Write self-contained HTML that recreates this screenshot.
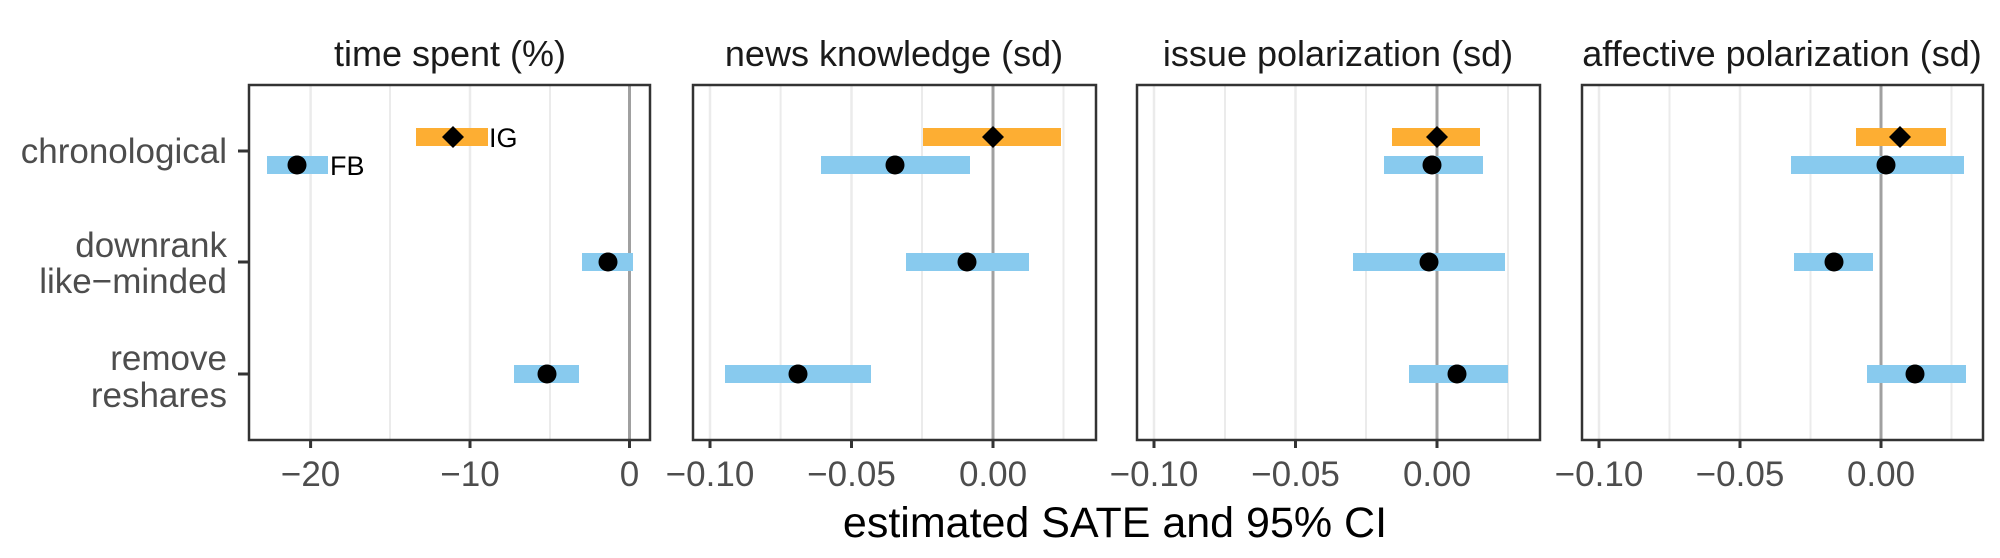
<!DOCTYPE html>
<html><head><meta charset="utf-8"><style>
html,body{margin:0;padding:0;background:#fff;}
svg{display:block;font-family:"Liberation Sans",Arial,sans-serif;}
</style></head><body>
<svg width="2000" height="558" viewBox="0 0 2000 558" xmlns="http://www.w3.org/2000/svg">
<!-- titles -->
<g font-size="36" fill="#1a1a1a" text-anchor="middle">
<text x="450" y="66">time spent (%)</text>
<text x="894" y="66">news knowledge (sd)</text>
<text x="1338" y="66">issue polarization (sd)</text>
<text x="1782" y="66">affective polarization (sd)</text>
</g>
<!-- y labels -->
<g font-size="35" fill="#4d4d4d" text-anchor="end">
<text x="227" y="163">chronological</text>
<text x="227" y="257">downrank</text>
<text x="227" y="293">like−minded</text>
<text x="227" y="370">remove</text>
<text x="227" y="407">reshares</text>
</g>
<g stroke="#333" stroke-width="3">
<line x1="238" y1="151" x2="249" y2="151"/>
<line x1="238" y1="262" x2="249" y2="262"/>
<line x1="238" y1="374" x2="249" y2="374"/>
</g>

<!-- Panel 1 -->
<g>
<g stroke="#ebebeb" stroke-width="2">
<line x1="390" y1="85" x2="390" y2="440"/><line x1="550" y1="85" x2="550" y2="440"/>
<line x1="310.6" y1="85" x2="310.6" y2="440" stroke-width="2.5"/><line x1="470" y1="85" x2="470" y2="440" stroke-width="2.5"/>
</g>
<line x1="629.5" y1="85" x2="629.5" y2="440" stroke="#a0a0a0" stroke-width="3"/>
<rect x="416" y="128" width="72" height="18" fill="#FDAE33"/>
<rect x="267" y="156" width="61" height="18" fill="#88CAEE"/>
<rect x="582" y="253" width="51" height="18" fill="#88CAEE"/>
<rect x="514" y="365" width="65" height="18" fill="#88CAEE"/>
<polygon points="453,126 464,137 453,148 442,137" fill="#000"/>
<circle cx="297" cy="165" r="9.5"/>
<circle cx="608" cy="262" r="9.5"/>
<circle cx="547" cy="374" r="9.5"/>
<text x="489" y="147" font-size="27" fill="#000">IG</text>
<text x="330" y="175" font-size="27" fill="#000">FB</text>
<rect x="249" y="85" width="401" height="355" fill="none" stroke="#333" stroke-width="2.5"/>
<g stroke="#333" stroke-width="3"><line x1="310.6" y1="440" x2="310.6" y2="448"/><line x1="470" y1="440" x2="470" y2="448"/><line x1="629.5" y1="440" x2="629.5" y2="448"/></g>
<g font-size="35" fill="#4d4d4d" text-anchor="middle"><text x="310.6" y="486">−20</text><text x="470" y="486">−10</text><text x="629.5" y="486">0</text></g>
</g>

<!-- Panel 2 -->
<g>
<g stroke="#ebebeb" stroke-width="2">
<line x1="780.6" y1="85" x2="780.6" y2="440"/><line x1="922" y1="85" x2="922" y2="440"/><line x1="1063.5" y1="85" x2="1063.5" y2="440"/>
<line x1="710" y1="85" x2="710" y2="440" stroke-width="2.5"/><line x1="851.5" y1="85" x2="851.5" y2="440" stroke-width="2.5"/>
</g>
<line x1="993" y1="85" x2="993" y2="440" stroke="#a0a0a0" stroke-width="3"/>
<rect x="923" y="128" width="138" height="18" fill="#FDAE33"/>
<rect x="821" y="156" width="149" height="18" fill="#88CAEE"/>
<rect x="906" y="253" width="123" height="18" fill="#88CAEE"/>
<rect x="725" y="365" width="146" height="18" fill="#88CAEE"/>
<polygon points="993,126 1004,137 993,148 982,137" fill="#000"/>
<circle cx="895" cy="165" r="9.5"/>
<circle cx="967" cy="262" r="9.5"/>
<circle cx="798" cy="374" r="9.5"/>
<rect x="693" y="85" width="403" height="355" fill="none" stroke="#333" stroke-width="2.5"/>
<g stroke="#333" stroke-width="3"><line x1="710" y1="440" x2="710" y2="448"/><line x1="851.5" y1="440" x2="851.5" y2="448"/><line x1="993" y1="440" x2="993" y2="448"/></g>
<g font-size="35" fill="#4d4d4d" text-anchor="middle"><text x="710" y="486">−0.10</text><text x="851.5" y="486">−0.05</text><text x="993" y="486">0.00</text></g>
</g>

<!-- Panel 3 -->
<g>
<g stroke="#ebebeb" stroke-width="2">
<line x1="1225" y1="85" x2="1225" y2="440"/><line x1="1366" y1="85" x2="1366" y2="440"/><line x1="1508" y1="85" x2="1508" y2="440"/>
<line x1="1154" y1="85" x2="1154" y2="440" stroke-width="2.5"/><line x1="1295.5" y1="85" x2="1295.5" y2="440" stroke-width="2.5"/>
</g>
<line x1="1437" y1="85" x2="1437" y2="440" stroke="#a0a0a0" stroke-width="3"/>
<rect x="1392" y="128" width="88" height="18" fill="#FDAE33"/>
<rect x="1384" y="156" width="99" height="18" fill="#88CAEE"/>
<rect x="1353" y="253" width="152" height="18" fill="#88CAEE"/>
<rect x="1409" y="365" width="99" height="18" fill="#88CAEE"/>
<polygon points="1437,126 1448,137 1437,148 1426,137" fill="#000"/>
<circle cx="1432" cy="165" r="9.5"/>
<circle cx="1429" cy="262" r="9.5"/>
<circle cx="1457" cy="374" r="9.5"/>
<rect x="1137" y="85" width="403" height="355" fill="none" stroke="#333" stroke-width="2.5"/>
<g stroke="#333" stroke-width="3"><line x1="1154" y1="440" x2="1154" y2="448"/><line x1="1295.5" y1="440" x2="1295.5" y2="448"/><line x1="1437" y1="440" x2="1437" y2="448"/></g>
<g font-size="35" fill="#4d4d4d" text-anchor="middle"><text x="1154" y="486">−0.10</text><text x="1295.5" y="486">−0.05</text><text x="1437" y="486">0.00</text></g>
</g>

<!-- Panel 4 -->
<g>
<g stroke="#ebebeb" stroke-width="2">
<line x1="1669.5" y1="85" x2="1669.5" y2="440"/><line x1="1810.5" y1="85" x2="1810.5" y2="440"/><line x1="1951.5" y1="85" x2="1951.5" y2="440"/>
<line x1="1599" y1="85" x2="1599" y2="440" stroke-width="2.5"/><line x1="1740" y1="85" x2="1740" y2="440" stroke-width="2.5"/>
</g>
<line x1="1881" y1="85" x2="1881" y2="440" stroke="#a0a0a0" stroke-width="3"/>
<rect x="1856" y="128" width="90" height="18" fill="#FDAE33"/>
<rect x="1791" y="156" width="173" height="18" fill="#88CAEE"/>
<rect x="1794" y="253" width="79" height="18" fill="#88CAEE"/>
<rect x="1867" y="365" width="99" height="18" fill="#88CAEE"/>
<polygon points="1900,126 1911,137 1900,148 1889,137" fill="#000"/>
<circle cx="1886" cy="165" r="9.5"/>
<circle cx="1834" cy="262" r="9.5"/>
<circle cx="1915" cy="374" r="9.5"/>
<rect x="1582" y="85" width="401" height="355" fill="none" stroke="#333" stroke-width="2.5"/>
<g stroke="#333" stroke-width="3"><line x1="1599" y1="440" x2="1599" y2="448"/><line x1="1740" y1="440" x2="1740" y2="448"/><line x1="1881" y1="440" x2="1881" y2="448"/></g>
<g font-size="35" fill="#4d4d4d" text-anchor="middle"><text x="1599" y="486">−0.10</text><text x="1740" y="486">−0.05</text><text x="1881" y="486">0.00</text></g>
</g>

<text x="1115" y="537" font-size="43" fill="#000" text-anchor="middle">estimated SATE and 95% CI</text>
</svg>
</body></html>
